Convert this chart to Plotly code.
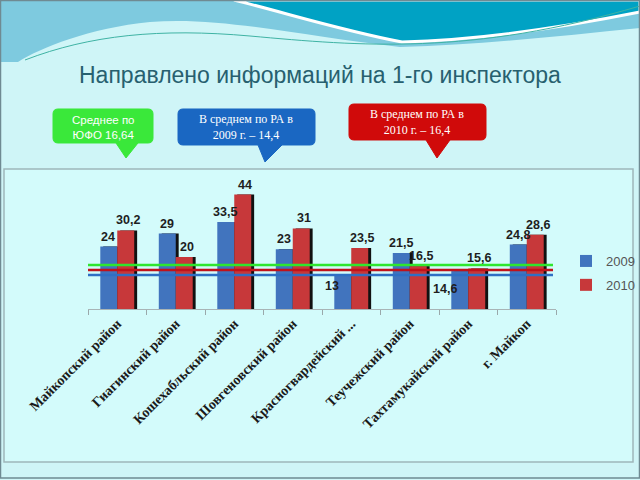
import plotly.graph_objects as go

# ---------------- data ----------------
categories = ["Майкопский район", "Гиагинский район", "Кошехабльский район",
              "Шовгеновский район", "Красногвардейский ...", "Теучежский район",
              "Тахтамукайский район", "г. Майкоп"]
values_2009 = [24, 29, 33.5, 23, 13, 21.5, 14.6, 24.8]
values_2010 = [30.2, 20, 44, 31, 23.5, 16.5, 15.6, 28.6]
series_names = ["2009", "2010"]
# reference lines as drawn on the slide (levels)
ref_line_levels = [16.9, 15.0, 13.1]   # green (ЮФО), red (РА 2010), blue (РА 2009)
title_text = "Направлено информаций на 1-го инспектора"
callout_texts = ["Среднее по<br>ЮФО 16,64",
                 "В среднем по РА в<br>2009 г. – 14,4",
                 "В среднем по РА в<br>2010 г. – 16,4"]

def fmt(v):
    s = ("%g" % v)
    return s.replace(".", ",")

# ---------------- layout geometry (pixels) ----------------
W, H = 640, 480
L, R, T, B = 88, 556, 180, 309

def px(x):
    return (x - L) / (R - L)

def py(y):
    return (B - y) / (B - T)

BLUE = "#4174be"
RED = "#c7383a"

fig = go.Figure()

bw = 0.29
# shadows
fig.add_trace(go.Bar(x=categories, y=values_2009, offset=-bw + 0.05, width=bw,
                     marker=dict(color="#111111", line=dict(width=0)),
                     showlegend=False, hoverinfo="skip"))
fig.add_trace(go.Bar(x=categories, y=values_2009, offset=-bw, width=bw,
                     marker=dict(color=BLUE, line=dict(width=0)),
                     name=series_names[0], legendgroup="a"))
fig.add_trace(go.Bar(x=categories, y=values_2010, offset=0.05, width=bw,
                     marker=dict(color="#111111", line=dict(width=0)),
                     showlegend=False, hoverinfo="skip"))
fig.add_trace(go.Bar(x=categories, y=values_2010, offset=0, width=bw,
                     marker=dict(color=RED, line=dict(width=0)),
                     name=series_names[1], legendgroup="b"))

shapes = []
# slide decorations (top)
shapes.append(dict(type="path", xref="paper", yref="paper", layer="below",
                   path=("M %f,%f L %f,%f L %f,%f C %f,%f %f,%f %f,%f C %f,%f %f,%f %f,%f C %f,%f %f,%f %f,%f L %f,%f Z" % (
                       px(0), py(0), px(640), py(0), px(640), py(28),
                       px(560), py(36), px(480), py(45), px(400), py(47),
                       px(300), py(36), px(220), py(16), px(150), py(22),
                       px(90), py(28), px(40), py(48), px(18), py(62),
                       px(0), py(62))),
                   fillcolor="#7ecadf", line=dict(width=0)))
shapes.append(dict(type="path", xref="paper", yref="paper", layer="below",
                   path=("M %f,%f L %f,%f L %f,%f C %f,%f %f,%f %f,%f C %f,%f %f,%f %f,%f Z" % (
                       px(234), py(0), px(640), py(0), px(640), py(12),
                       px(560), py(28), px(480), py(40), px(402), py(42),
                       px(340), py(30), px(290), py(14), px(234), py(0))),
                   fillcolor="#00a2c4", line=dict(color="#ffffff", width=3)))
shapes.append(dict(type="path", xref="paper", yref="paper", layer="below",
                   path=("M %f,%f C %f,%f %f,%f %f,%f C %f,%f %f,%f %f,%f" % (
                       px(25), py(60), px(90), py(35), px(160), py(28), px(250), py(36),
                       px(360), py(46), px(470), py(56), px(640), py(6))),
                   line=dict(color="#3fb3a4", width=1)))
# chart box
shapes.append(dict(type="rect", xref="paper", yref="paper", layer="below",
                   x0=px(4), x1=px(633), y0=py(169), y1=py(462),
                   fillcolor="#d3fbfb", line=dict(color="#9fb6ba", width=1.5)))
# outer frame
shapes.append(dict(type="rect", xref="paper", yref="paper", layer="below",
                   x0=px(0.5), x1=px(639.5), y0=py(0.5), y1=py(478),
                   fillcolor="rgba(0,0,0,0)", line=dict(color="#6f8a92", width=1.5)))

# reference lines
line_colors = ["#2ee62e", "#c0111a", "#2f6fc4"]
for lvl, c in zip(ref_line_levels, line_colors):
    shapes.append(dict(type="line", xref="paper", yref="y", layer="above",
                       x0=0, x1=px(553), y0=lvl, y1=lvl,
                       line=dict(color=c, width=2.5)))

# callouts
def callout(x0, y0, x1, y1, tb0, tb1, tx, ty, color, r=5):
    p = "M %f,%f " % (px(x0 + r), py(y0))
    p += "L %f,%f " % (px(x1 - r), py(y0))
    p += "Q %f,%f %f,%f " % (px(x1), py(y0), px(x1), py(y0 + r))
    p += "L %f,%f " % (px(x1), py(y1 - r))
    p += "Q %f,%f %f,%f " % (px(x1), py(y1), px(x1 - r), py(y1))
    p += "L %f,%f L %f,%f L %f,%f " % (px(tb1), py(y1), px(tx), py(ty), px(tb0), py(y1))
    p += "L %f,%f " % (px(x0 + r), py(y1))
    p += "Q %f,%f %f,%f " % (px(x0), py(y1), px(x0), py(y1 - r))
    p += "L %f,%f " % (px(x0), py(y0 + r))
    p += "Q %f,%f %f,%f Z" % (px(x0), py(y0), px(x0 + r), py(y0))
    return dict(type="path", xref="paper", yref="paper", layer="above", path=p,
                fillcolor=color, line=dict(color=color, width=1))

shapes.append(callout(53, 109, 153, 143, 116, 138, 126, 158, "#3ae83a"))
shapes.append(callout(178, 109, 315, 145, 258, 282, 265, 162, "#1a67c2"))
shapes.append(callout(349, 104, 486, 140, 426, 450, 437, 158, "#d00a0a"))

annotations = []
annotations.append(dict(text=title_text, xref="paper", yref="paper",
                        x=px(320), y=py(75), xanchor="center", yanchor="middle",
                        showarrow=False,
                        font=dict(family="Liberation Sans", size=23, color="#27606f")))
annotations.append(dict(text=callout_texts[0], xref="paper", yref="paper",
                        x=px(103), y=py(127), xanchor="center", yanchor="middle",
                        showarrow=False,
                        font=dict(family="Liberation Sans", size=11.5, color="white")))
annotations.append(dict(text=callout_texts[1], xref="paper", yref="paper",
                        x=px(246), y=py(127), xanchor="center", yanchor="middle",
                        showarrow=False,
                        font=dict(family="Liberation Serif", size=12, color="white")))
annotations.append(dict(text=callout_texts[2], xref="paper", yref="paper",
                        x=px(417), y=py(122), xanchor="center", yanchor="middle",
                        showarrow=False,
                        font=dict(family="Liberation Serif", size=12, color="white")))

# data labels (offsets are pixel styling only)
shift_2009 = [(-9, 1, "bottom")] * 8
shift_2009 = list(shift_2009)
shift_2009[4] = (-19, -2, "top")
shift_2009[6] = (-23, -9, "top")
shift_2010 = [(11, 1, "bottom")] * 8
lab_font = dict(family="Liberation Sans", size=12.5, color="#1e1e1e")
for cat, v, (dx, dy, ya) in zip(categories, values_2009, shift_2009):
    annotations.append(dict(text="<b>%s</b>" % fmt(v), x=cat, y=v, xref="x", yref="y",
                            xshift=dx, yshift=dy, yanchor=ya, showarrow=False, font=lab_font))
for cat, v, (dx, dy, ya) in zip(categories, values_2010, shift_2010):
    annotations.append(dict(text="<b>%s</b>" % fmt(v), x=cat, y=v, xref="x", yref="y",
                            xshift=dx, yshift=dy, yanchor=ya, showarrow=False, font=lab_font))

fig.update_layout(
    width=W, height=H,
    margin=dict(l=L, r=W - R, t=T, b=H - B, pad=0, autoexpand=False),
    paper_bgcolor="#cff5f7",
    plot_bgcolor="rgba(0,0,0,0)",
    barmode="overlay",
    shapes=shapes,
    annotations=annotations,
    showlegend=True,
    legend=dict(x=px(566), y=py(273), xanchor="left", yanchor="middle",
                bgcolor="rgba(0,0,0,0)", tracegroupgap=4,
                font=dict(family="Liberation Sans", size=13, color="#555555")),
    xaxis=dict(type="category", tickangle=-45, tickson="boundaries",
               ticks="outside", ticklen=5, tickcolor="#9aa8aa",
               showline=True, linecolor="#a8b4b6", linewidth=1,
               showgrid=False, automargin=False,
               tickfont=dict(family="Liberation Serif", size=14, color="#1a1a1a"),
               ticktext=["<b>%s</b>" % c for c in categories], tickvals=categories),
    yaxis=dict(range=[0, (B - T) / 2.6], visible=False, showgrid=False, fixedrange=True),
)

fig.write_html("out.html")
